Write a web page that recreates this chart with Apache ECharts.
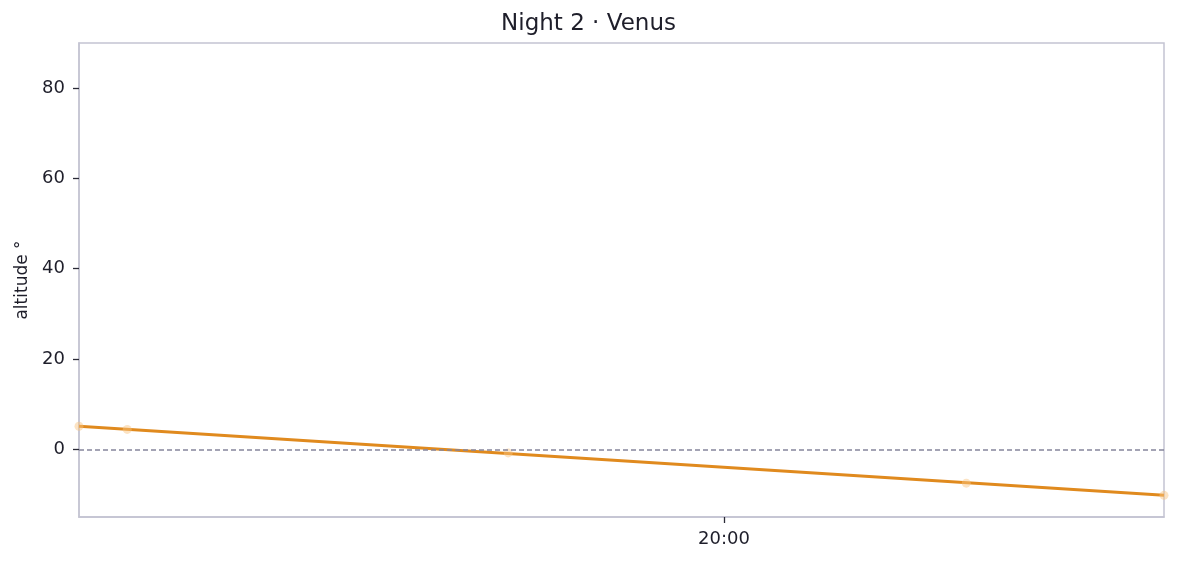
<!DOCTYPE html>
<html>
<head>
<meta charset="utf-8">
<script src="https://cdn.jsdelivr.net/npm/echarts@6/dist/echarts.min.js"></script>
<style>
  html, body { margin: 0; padding: 0; background: #fff; }
  #chart { width: 1177px; height: 564px; }
</style>
</head>
<body>
<div id="chart"></div>
<script>
// time in minutes after midnight, altitude in degrees
const lineTimes = [1146.5, 1236.5];
const lineAlt = [5.1, -10.2];
const sampleTimes = [1146.5, 1150.5, 1182.1, 1220.1, 1236.5];
const sampleAlt = [5.1, 4.4, -0.8, -7.5, -10.2];
const xTicks = [1200];
const yTicks = [0, 20, 40, 60, 80];

const fmtTime = (m) => {
  const h = Math.floor(m / 60);
  const mm = Math.round(m - h * 60);
  return String(h).padStart(2, "0") + ":" + String(mm).padStart(2, "0");
};

const chart = echarts.init(document.getElementById("chart"));
const font = "DejaVu Sans";
const frame = "#c4c4d2";

chart.setOption({
  animation: false,
  title: {
    text: "Night 2 · Venus",
    left: "center",
    top: 8,
    textStyle: { fontFamily: font, fontSize: 23, fontWeight: "normal", color: "#1e1e2a" },
  },
  grid: {
    left: 79, right: 13, top: 43, bottom: 47,
    show: true, borderColor: frame, borderWidth: 1.5,
  },
  xAxis: {
    type: "value",
    min: lineTimes[0],
    max: lineTimes[lineTimes.length - 1],
    splitLine: { show: false },
    axisLine: { show: true, onZero: false, lineStyle: { color: frame, width: 1.5 } },
    axisTick: { show: true, customValues: xTicks, length: 6, lineStyle: { color: "#2a2a36", width: 1.3 } },
    axisLabel: {
      customValues: xTicks,
      formatter: fmtTime,
      fontFamily: font, fontSize: 18, color: "#1e1e2a", margin: 13,
    },
  },
  yAxis: {
    type: "value",
    min: -15,
    max: 90,
    name: "altitude °",
    nameLocation: "middle",
    nameGap: 47,
    nameTextStyle: { fontFamily: font, fontSize: 17, color: "#1e1e2a" },
    splitLine: { show: false },
    axisLine: { show: true, onZero: false, lineStyle: { color: frame, width: 1.5 } },
    axisTick: { show: true, customValues: yTicks, length: 6, lineStyle: { color: "#2a2a36", width: 1.3 } },
    axisLabel: {
      customValues: yTicks,
      fontFamily: font, fontSize: 18, color: "#1e1e2a", margin: 14,
    },
  },
  series: [
    {
      type: "line",
      data: lineTimes.map((t, i) => [t, lineAlt[i]]),
      showSymbol: false,
      lineStyle: { color: "#e08a1e", width: 3 },
      z: 3,
      markLine: {
        silent: true,
        symbol: "none",
        label: { show: false },
        lineStyle: { type: [5, 3], color: "#85859c", width: 1.5 },
        data: [{ yAxis: 0 }],
      },
    },
    {
      type: "scatter",
      data: sampleTimes.map((t, i) => [t, sampleAlt[i]]),
      symbolSize: 9,
      itemStyle: { color: "rgba(248, 196, 130, 0.6)" },
      z: 4,
    },
  ],
});
</script>
</body>
</html>
